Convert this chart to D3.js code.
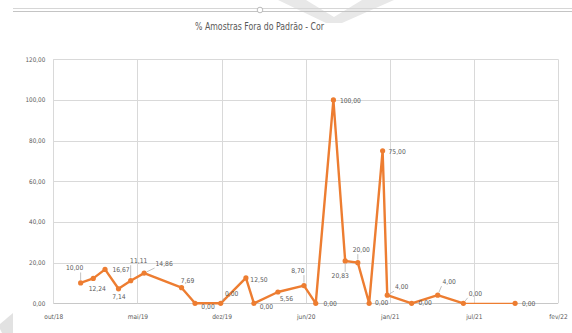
<!DOCTYPE html>
<html>
<head>
<meta charset="utf-8">
<script src="https://cdn.jsdelivr.net/npm/d3@7"></script>
<style>
  html, body { margin: 0; padding: 0; background: #ffffff; }
  svg { display: block; }
  text { font-family: "DejaVu Sans Condensed", "Liberation Sans", sans-serif; }
</style>
</head>
<body>
<svg id="chart" width="572" height="333"></svg>
<script>
// Sample dates and % of samples out of standard (colour)
const sampleDates = [
  "2019-01-04", "2019-02-03", "2019-03-03", "2019-04-04", "2019-05-03", "2019-06-04",
  "2019-09-01", "2019-10-03", "2019-12-03", "2020-02-01", "2020-02-20", "2020-04-17",
  "2020-06-18", "2020-07-16", "2020-08-27", "2020-09-24", "2020-10-24", "2020-11-20",
  "2020-12-22", "2021-01-02", "2021-03-01", "2021-05-02", "2021-07-02", "2021-11-02"
];
const pctOutOfStandard = [
  10.00, 12.24, 16.67, 7.14, 11.11, 14.86,
  7.69, 0.00, 0.00, 12.50, 0.00, 5.56,
  8.70, 0.00, 100.00, 20.83, 20.00, 0.00,
  75.00, 4.00, 0.00, 4.00, 0.00, 0.00
];
const yTickValues = [0, 20, 40, 60, 80, 100, 120];
const xTickLabels = ["out/18", "mai/19", "dez/19", "jun/20", "jan/21", "jul/21", "fev/22"];
const chartTitle = "% Amostras Fora do Padrão - Cor";

// Label placement relative to each marker: [dx, dy, leader line?]
const labelOffsets = [
  [-6, -14.5, true], [4, 10.5, false], [16, 0.5, false], [0.5, 8.7, false], [8, -19.5, true], [20, -9, true],
  [6, -7, false], [13, 3.5, false], [11, -9, true], [13, 2, false], [12.5, 3.5, false], [8.5, 7.5, false],
  [-6, -14.5, true], [14.5, 0.7, false], [17, 1.5, false], [-5, 15, true], [3.5, -12.5, true], [12.5, 0, false],
  [14.5, 1.5, false], [14.5, -8, true], [13.5, 0, false], [11.5, -13, true], [12, -9.5, true], [13.5, 1, false]
];

const svg = d3.select("#chart");
const orange = "#ED7D31";
const textGrey = "#595959";
const gridGrey = "#d9d9d9";

const parse = d3.timeParse("%Y-%m-%d");
const data = sampleDates.map((d, i) => ({ date: parse(d), value: pctOutOfStandard[i], off: labelOffsets[i] }));

// Date axis: major unit of 200 days from the axis start
const axisStart = parse("2018-10-31");
const step = 200;
const axisTicks = xTickLabels.map((_, i) => d3.timeDay.offset(axisStart, i * step));

const plot = { left: 53.3, right: 558, top: 59.3, bottom: 303.3 };
const x = d3.scaleTime().domain([axisTicks[0], axisTicks[axisTicks.length - 1]]).range([plot.left, plot.right]);
const y = d3.scaleLinear().domain([0, 120]).range([plot.bottom, plot.top]);

const locale = d3.formatLocale({ decimal: ",", thousands: ".", grouping: [3], currency: ["R$", ""] });
const fmt = locale.format(".2f");

// Faint decorative shapes in the page background
svg.append("polygon")
  .attr("points", "278,0 306,0 334,17 362,0 394,0 342,23 326,23")
  .attr("fill", "#e8e8e8");
svg.append("polygon")
  .attr("points", "13,313 13,333 2,333 0,329 0,324")
  .attr("fill", "#e2e2e2");

// Frame rule across the top with its handle
svg.append("line").attr("x1", 13).attr("x2", 572).attr("y1", 8.5).attr("y2", 8.5)
  .attr("stroke", "#d6d6d6").attr("stroke-width", 1);
svg.append("line").attr("x1", 13).attr("x2", 572).attr("y1", 11.5).attr("y2", 11.5)
  .attr("stroke", "#c4c4c4").attr("stroke-width", 1);
svg.append("circle").attr("cx", 260).attr("cy", 10).attr("r", 2.8)
  .attr("fill", "#fff").attr("stroke", "#aaaaaa").attr("stroke-width", 0.8);

// Title
svg.append("text")
  .attr("x", 259.5).attr("y", 26)
  .attr("text-anchor", "middle").attr("dominant-baseline", "central")
  .attr("fill", textGrey).attr("font-size", 9.6)
  .attr("textLength", 129).attr("lengthAdjust", "spacingAndGlyphs")
  .text(chartTitle);

// Gridlines
const grid = svg.append("g");
grid.selectAll("line.h").data(yTickValues).join("line")
  .attr("class", "h")
  .attr("x1", plot.left).attr("x2", plot.right)
  .attr("y1", d => Math.round(y(d)) + 0.5).attr("y2", d => Math.round(y(d)) + 0.5)
  .attr("stroke", d => d === 0 ? "#c8c8c8" : gridGrey).attr("stroke-width", 1);
grid.selectAll("line.v").data(axisTicks).join("line")
  .attr("class", "v")
  .attr("x1", d => Math.round(x(d)) + 0.5).attr("x2", d => Math.round(x(d)) + 0.5)
  .attr("y1", plot.top).attr("y2", plot.bottom)
  .attr("stroke", gridGrey).attr("stroke-width", 1);

// Axes (labels only)
const yAxis = d3.axisLeft(y).tickValues(yTickValues).tickFormat(fmt).tickSize(0).tickPadding(8);
svg.append("g").attr("transform", `translate(${plot.left},0)`).call(yAxis)
  .call(g => g.select(".domain").remove())
  .call(g => g.selectAll("text").attr("fill", textGrey).attr("font-size", 6.3)
    .attr("font-family", "'DejaVu Sans Condensed', sans-serif"));

const xAxis = d3.axisBottom(x).tickValues(axisTicks).tickFormat((d, i) => xTickLabels[i]).tickSize(0).tickPadding(11);
svg.append("g").attr("transform", `translate(0,${plot.bottom})`).call(xAxis)
  .call(g => g.select(".domain").remove())
  .call(g => g.selectAll("text").attr("fill", textGrey).attr("font-size", 6.5)
    .attr("font-family", "'DejaVu Sans Condensed', sans-serif"));

// Series line
const line = d3.line().x(d => x(d.date)).y(d => y(d.value));
svg.append("path")
  .datum(data.slice(0, data.length - 1))
  .attr("d", line)
  .attr("fill", "none").attr("stroke", orange).attr("stroke-width", 2.4)
  .attr("stroke-linejoin", "round").attr("stroke-linecap", "round");
svg.append("path")
  .datum(data.slice(data.length - 2))
  .attr("d", line)
  .attr("fill", "none").attr("stroke", orange).attr("stroke-width", 1.3);

// Markers
svg.append("g").selectAll("circle").data(data).join("circle")
  .attr("cx", d => x(d.date)).attr("cy", d => y(d.value)).attr("r", 2.6)
  .attr("fill", orange);

// Data labels and leader lines
const labels = svg.append("g");
data.forEach(d => {
  const px = x(d.date), py = y(d.value);
  const lx = px + d.off[0], ly = py + d.off[1];
  const t = labels.append("text")
    .attr("x", lx).attr("y", ly)
    .attr("text-anchor", "middle").attr("dominant-baseline", "central")
    .attr("fill", textGrey).attr("font-size", 6.7)
    .text(fmt(d.value));
  if (d.off[2]) {
    const bb = t.node().getBBox();
    const bx0 = bb.x - 1, bx1 = bb.x + bb.width + 1, by0 = bb.y, by1 = bb.y + bb.height;
    const ex = Math.max(bx0, Math.min(px, bx1));
    const ey = Math.max(by0, Math.min(py, by1));
    const ang = Math.atan2(ey - py, ex - px);
    labels.append("line")
      .attr("x1", px + Math.cos(ang) * 3).attr("y1", py + Math.sin(ang) * 3)
      .attr("x2", ex).attr("y2", ey)
      .attr("stroke", "#a6a6a6").attr("stroke-width", 0.7);
  }
});
</script>
</body>
</html>
